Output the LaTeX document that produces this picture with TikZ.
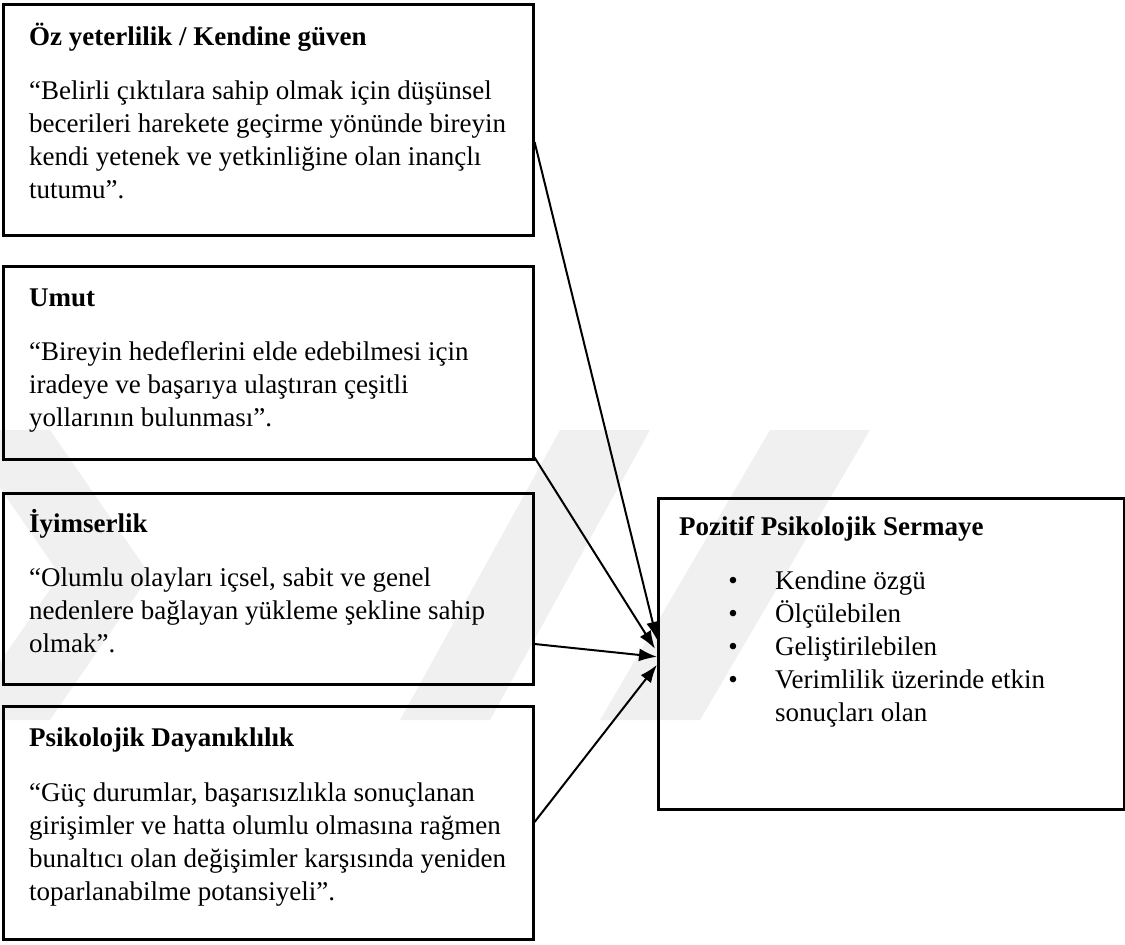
\documentclass[tikz,border=0pt]{standalone}
\usepackage{fontspec}
\setmainfont{Liberation Serif}
\usetikzlibrary{arrows.meta,calc}
\begin{document}
\begin{tikzpicture}[x=1pt,y=-1pt,
  box/.style={draw=black,line width=2.6pt,rectangle,inner sep=0pt,anchor=north west},
  txt/.style={anchor=base west,inner sep=0pt,font=\fontsize{27}{33}\selectfont},
  ttl/.style={anchor=base west,inner sep=0pt,font=\fontsize{27}{33}\selectfont\bfseries},
  bul/.style={anchor=base,inner sep=0pt,font=\fontsize{27}{33}\selectfont},
  conn/.style={line width=2pt,-{Latex[length=18pt,width=13pt]}},
  wm/.style={fill=black!6,draw=none}]
\useasboundingbox (0,0) rectangle (1125,945);
% faint watermark
\fill[wm] (-40,430) -- (50,430) -- (150,575) -- (50,720) -- (-40,720) -- (60,575) -- cycle;
\fill[wm] (400,720) -- (490,720) -- (650,430) -- (560,430) -- cycle;
\fill[wm] (600,720) -- (700,720) -- (870,430) -- (770,430) -- cycle;
% boxes
\node[box,minimum width=530pt,minimum height=231pt] (b1) at (2,3) {};
\node[box,minimum width=530pt,minimum height=193pt] (b2) at (2,265) {};
\node[box,minimum width=530pt,minimum height=191pt] (b3) at (2,492) {};
\node[box,minimum width=530pt,minimum height=233pt] (b4) at (2,705) {};
\node[box,minimum width=466pt,minimum height=311pt] (r) at (657,497) {};
% box 1
\node[ttl] (t1) at (29,45) {Öz yeterlilik / Kendine güven};
\node[txt] (l11) at (29,99) {“Belirli çıktılara sahip olmak için düşünsel};
\node[txt] (l12) at (29,132) {becerileri harekete geçirme yönünde bireyin};
\node[txt] (l13) at (29,165) {kendi yetenek ve yetkinliğine olan inançlı};
\node[txt] (l14) at (29,198) {tutumu”.};
% box 2
\node[ttl] (t2) at (29,306) {Umut};
\node[txt] (l21) at (29,360) {“Bireyin hedeflerini elde edebilmesi için};
\node[txt] (l22) at (29,393) {iradeye ve başarıya ulaştıran çeşitli};
\node[txt] (l23) at (29,426) {yollarının bulunması”.};
% box 3
\node[ttl] (t3) at (29,532) {İyimserlik};
\node[txt] (l31) at (29,586) {“Olumlu olayları içsel, sabit ve genel};
\node[txt] (l32) at (29,619) {nedenlere bağlayan yükleme şekline sahip};
\node[txt] (l33) at (29,652) {olmak”.};
% box 4
\node[ttl] (t4) at (29,746) {Psikolojik Dayanıklılık};
\node[txt] (l41) at (29,801) {“Güç durumlar, başarısızlıkla sonuçlanan};
\node[txt] (l42) at (29,834) {girişimler ve hatta olumlu olmasına rağmen};
\node[txt] (l43) at (29,867) {bunaltıcı olan değişimler karşısında yeniden};
\node[txt] (l44) at (29,900) {toparlanabilme potansiyeli”.};
% right box
\node[ttl] (tr) at (679,535) {Pozitif Psikolojik Sermaye};
\node[bul] (d1) at (733,589) {•};
\node[bul] (d2) at (733,622) {•};
\node[bul] (d3) at (733,655) {•};
\node[bul] (d4) at (733,688) {•};
\node[txt] (i1) at (775,589) {Kendine özgü};
\node[txt] (i2) at (775,622) {Ölçülebilen};
\node[txt] (i3) at (775,655) {Geliştirilebilen};
\node[txt] (i4) at (775,688) {Verimlilik üzerinde etkin};
\node[txt] (i5) at (775,721) {sonuçları olan};
% connectors
\coordinate (s1) at ($(b1.north east)+(0,139)$);
\coordinate (s2) at ($(b2.south east)+(0,-3)$);
\coordinate (s3) at ($(b3.north east)+(0,152)$);
\coordinate (s4) at ($(b4.north east)+(0,117)$);
\draw[conn] (s1) -- ($(r.west)+(0,-14)$);
\draw[conn] (s2) -- ($(r.west)+(-2,-5)$);
\draw[conn] (s3) -- ($(r.west)+(0,3)$);
\draw[conn] (s4) -- ($(r.west)+(0,11)$);
\end{tikzpicture}
\end{document}
